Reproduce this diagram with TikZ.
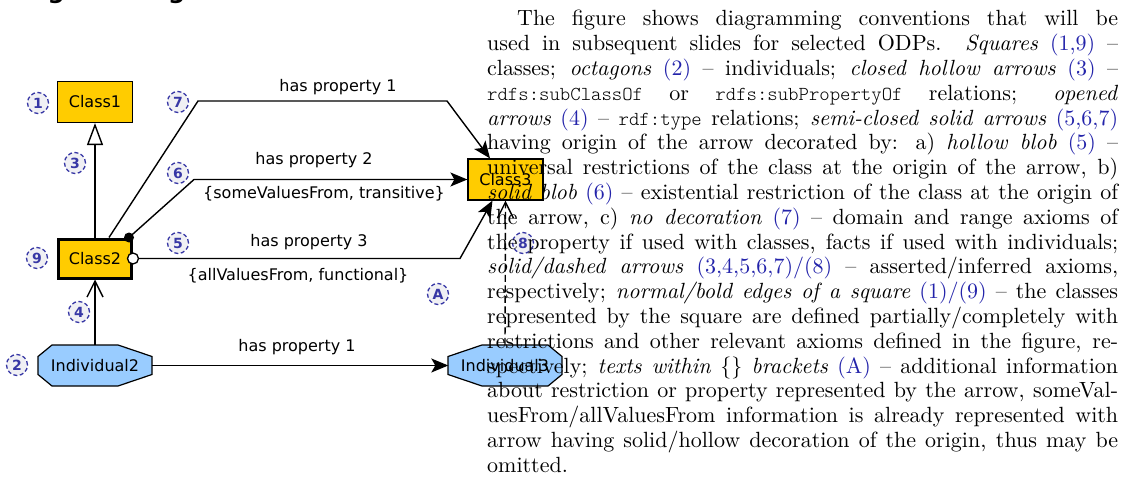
\documentclass[tikz,border=0pt]{standalone}
\usepackage{fontspec}
\usepackage{graphicx}
\usetikzlibrary{arrows.meta,calc}
\newfontfamily\diafont{DejaVu Sans}
\newfontfamily\lighttt{lmmonolt10-regular.otf}
\definecolor{classyellow}{RGB}{255,204,0}
\definecolor{indblue}{RGB}{153,204,255}
\definecolor{numblue}{RGB}{55,55,165}
\definecolor{numfill}{RGB}{240,240,244}
\definecolor{txtblue}{RGB}{35,35,170}
\newcommand{\bn}[1]{\textcolor{txtblue}{#1}}
\newcommand{\ttx}[1]{{\lighttt\fontsize{9}{11}\selectfont #1}}
\begin{document}
\begin{tikzpicture}[x=1pt,y=-1pt,
  dfont/.style={font=\diafont\fontsize{16}{19}\selectfont},
  cls/.style={dfont, draw=black, line width=1.2pt, fill=classyellow,
    minimum width=75pt, minimum height=41pt, inner sep=0pt},
  boldcls/.style={cls, line width=3pt, minimum width=73pt, minimum height=39pt},
  indtext/.style={dfont, minimum width=113pt, minimum height=41pt, inner sep=0pt},
  octo/.style={draw=black, line width=1.2pt, fill=indblue, line join=miter},
  conn/.style={draw=black, line width=1.4pt, line join=miter},
  solidtip/.style={-{Stealth[length=17pt,width=14pt,inset=4pt]}},
  opentip/.style={-{Straight Barb[length=16pt,width=16pt,line width=1.4pt]}},
  hollowtri/.style={-{Triangle[length=22pt,width=16pt,fill=white,line width=1.4pt]}},
  lbl/.style={dfont, inner sep=0pt},
  num/.style={circle, draw=numblue, fill=numfill, line width=1.3pt,
    dash pattern=on 4pt off 2.5pt, minimum size=21pt, inner sep=0pt,
    text=numblue, font=\diafont\bfseries\fontsize{14}{14}\selectfont}
]
\useasboundingbox (0,0) rectangle (1121,481);
% clipped title
\begin{scope}
\clip (0,0) rectangle (1121,481);
\node[anchor=base west, inner sep=0pt, font=\diafont\bfseries\fontsize{24}{28}\selectfont] (title) at (3,-1) {Diagramming conventions};
\end{scope}

% classes
\node[cls] (c1) at (95,102) {Class1};
\node[boldcls] (c2) at (95,258.5) {Class2};
\node[cls] (c3) at (505.5,179.5) {Class3};

% individuals (octagons)
\coordinate (i2c) at (95,365.5);
\coordinate (i3c) at (505,365.5);
\draw[octo, shift={(i2c)}] (-43,-20.5) -- (23,-20.5) -- (57,-9) -- (57,9) -- (23,20.5) -- (-43,20.5) -- (-57,9) -- (-57,-9) -- cycle;
\draw[octo, shift={(i3c)}] (-23,-20.5) -- (43,-20.5) -- (57,-9) -- (57,9) -- (43,20.5) -- (-23,20.5) -- (-57,9) -- (-57,-9) -- cycle;
\node[indtext] (i2) at (i2c) {Individual2};
\node[indtext] (i3) at (i3c) {Individual3};

% bend points and ends
\coordinate (o7) at ($(c2.north)+(14,0)$);
\coordinate (k7a) at (198,101);
\coordinate (k7b) at (447,101);
\coordinate (t7) at ($(c3.north)+(-15.5,0)$);
\coordinate (o6) at ($(c2.north east)+(-4,0)$);
\coordinate (k6) at (194,179.5);
\coordinate (o5) at ($(c2.east)+(5.5,0)$);
\coordinate (k5) at (460,258.5);
\coordinate (t5) at ($(c3.south)+(-13,0)$);

% connectors
\draw[conn, hollowtri] (c2.north) -- (c1.south);
\draw[conn, opentip] (i2.north) -- (c2.south);
\draw[conn, solidtip] (o7) -- (k7a) -- (k7b) -- (t7);
\draw[conn, solidtip] (o6) -- (k6) -- (c3.west);
\draw[conn, solidtip] (o5) -- (k5) -- (t5);
\draw[conn, solidtip] (i2.east) -- (i3.west);
\draw[conn, opentip, dash pattern=on 7pt off 3.5pt] (i3.north) -- (c3.south);
\fill[black] (o6) circle (5);
\draw[black, line width=1.3pt, fill=white] (c2.east) circle (5.5);

% labels
\node[lbl] (l7) at (338,87) {has property 1};
\node[lbl] (l6) at (314,160) {has property 2};
\node[lbl] (l6b) at (324,194) {\{someValuesFrom, transitive\}};
\node[lbl] (l5) at (309,242) {has property 3};
\node[lbl] (l5b) at (298,276) {\{allValuesFrom, functional\}};
\node[lbl] (lb) at (297,347) {has property 1};

% numbers
\node[num] (n1) at (38,103) {1};
\node[num] (n2) at (17,365) {2};
\node[num] (n3) at (75,163) {3};
\node[num] (n4) at (79,312) {4};
\node[num] (n5) at (178,243) {5};
\node[num] (n6) at (178,173) {6};
\node[num] (n7) at (178,102) {7};
\node[num] (n8) at (523,243) {8};
\node[num] (n9) at (37,258) {9};
\node[num] (nA) at (438,294) {A};

% paragraph
\node[anchor=north west, inner sep=0pt] (para) at (487,10.2) {\scalebox{2.2}{\begin{minipage}[t]{286.8pt}\fontsize{10}{11.27}\selectfont\parindent=0pt
\hspace*{13.6pt}The figure shows diagramming conventions that will be\linebreak
used in subsequent slides for selected ODPs. \emph{Squares} \bn{(1,9)} --\linebreak
classes; \emph{octagons} \bn{(2)} -- individuals; \emph{closed hollow arrows} \bn{(3)} --\linebreak
\ttx{rdfs:subClassOf} or \ttx{rdfs:subPropertyOf} relations; \emph{opened}\linebreak
\emph{arrows} \bn{(4)} -- \ttx{rdf:type} relations; \emph{semi-closed solid arrows} \bn{(5,6,7)}\linebreak
having origin of the arrow decorated by: a) \emph{hollow blob} \bn{(5)} --\linebreak
universal restrictions of the class at the origin of the arrow, b)\linebreak
\emph{solid blob} \bn{(6)} -- existential restriction of the class at the origin of\linebreak
the arrow, c) \emph{no decoration} \bn{(7)} -- domain and range axioms of\linebreak
the property if used with classes, facts if used with individuals;\linebreak
\emph{solid/dashed arrows} \bn{(3,4,5,6,7)/(8)} -- asserted/inferred axioms,\linebreak
respectively; \emph{normal/bold edges of a square} \bn{(1)/(9)} -- the classes\linebreak
represented by the square are defined partially/completely with\linebreak
restrictions and other relevant axioms defined in the figure, re-\linebreak
spectively; \emph{texts within} \{\} \emph{brackets} \bn{(A)} -- additional information\linebreak
about restriction or property represented by the arrow, someVal-\linebreak
uesFrom/allValuesFrom information is already represented with\linebreak
arrow having solid/hollow decoration of the origin, thus may be\linebreak
omitted.
\end{minipage}}};
\end{tikzpicture}
\end{document}
